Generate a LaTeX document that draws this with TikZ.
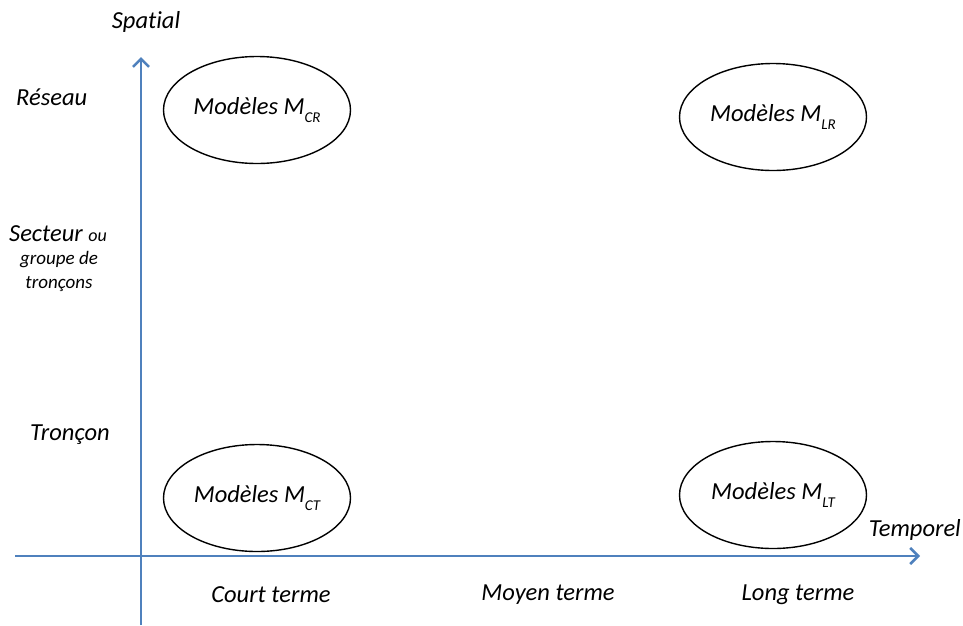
\documentclass[tikz,border=0pt]{standalone}
\usepackage{fontspec}
\setmainfont{Carlito}[Ligatures=NoCommon]
\usetikzlibrary{positioning}
\usetikzlibrary{shapes.geometric}
\usetikzlibrary{arrows.meta}
\definecolor{axisblue}{RGB}{79,129,189}
\newcommand{\modsub}[1]{\raisebox{-0.7ex}{\fontsize{15}{15}\selectfont\itshape #1}}

\begin{document}
\begin{tikzpicture}
    [
    x=1pt, y=-1pt,
    every node/.style={font=\itshape\fontsize{24.5}{28}\selectfont, inner sep=0pt},
    model/.style={ellipse, draw=black, line width=1.4pt, minimum width=187pt, minimum height=107pt,
        font=\itshape\fontsize{24.5}{28}\selectfont},
    axis/.style={draw=axisblue, line width=2.6pt, -{Straight Barb[length=8pt, width=16pt, line width=2.6pt]}},
    level/.style={anchor=west},
    term/.style={anchor=center},
    small/.style={font=\itshape\fontsize{19}{25}\selectfont},
    ]

    \useasboundingbox (0,0) rectangle (963,625);

    % axes
    \coordinate (y_foot) at (141,625);
    \coordinate (y_tip) at (141,57);
    \coordinate (x_foot) at (15,556);
    \coordinate (x_tip) at (920,556);
    \draw[axis] (y_foot) -- (y_tip);
    \draw[axis] (x_foot) -- (x_tip);

    \node (lab_spatial) at (146,22) {Spatial};
    \node[anchor=south east] (lab_temporel) at (961,541) {Temporel};

    % spatial levels
    \node[level] (lvl_reseau) at (16,97) {Réseau};
    \node[level] (lvl_secteur) at (9,234) {Secteur {\fontsize{18}{18}\selectfont ou}};
    \node[small] (lvl_groupe) at (59,260) {groupe de};
    \node[small, below = 24pt of lvl_groupe.center, anchor=center] (lvl_troncons) {tronçons};
    \node[level] (lvl_troncon) at (30,435) {Tronçon};

    % temporal levels
    \node[term] (t_court) at (271,595) {Court terme};
    \node[term] (t_moyen) at (548,595) {Moyen terme};
    \node[term] (t_long) at (798,595) {Long terme};

    % models
    \node[model] (mod_cr) at (257,110) {Modèles M\modsub{CR}};
    \node[model] (mod_lr) at (773,117) {Modèles M\modsub{LR}};
    \node[model] (mod_ct) at (257,498) {Modèles M\modsub{CT}};
    \node[model] (mod_lt) at (773,495) {Modèles M\modsub{LT}};
\end{tikzpicture}
\end{document}
